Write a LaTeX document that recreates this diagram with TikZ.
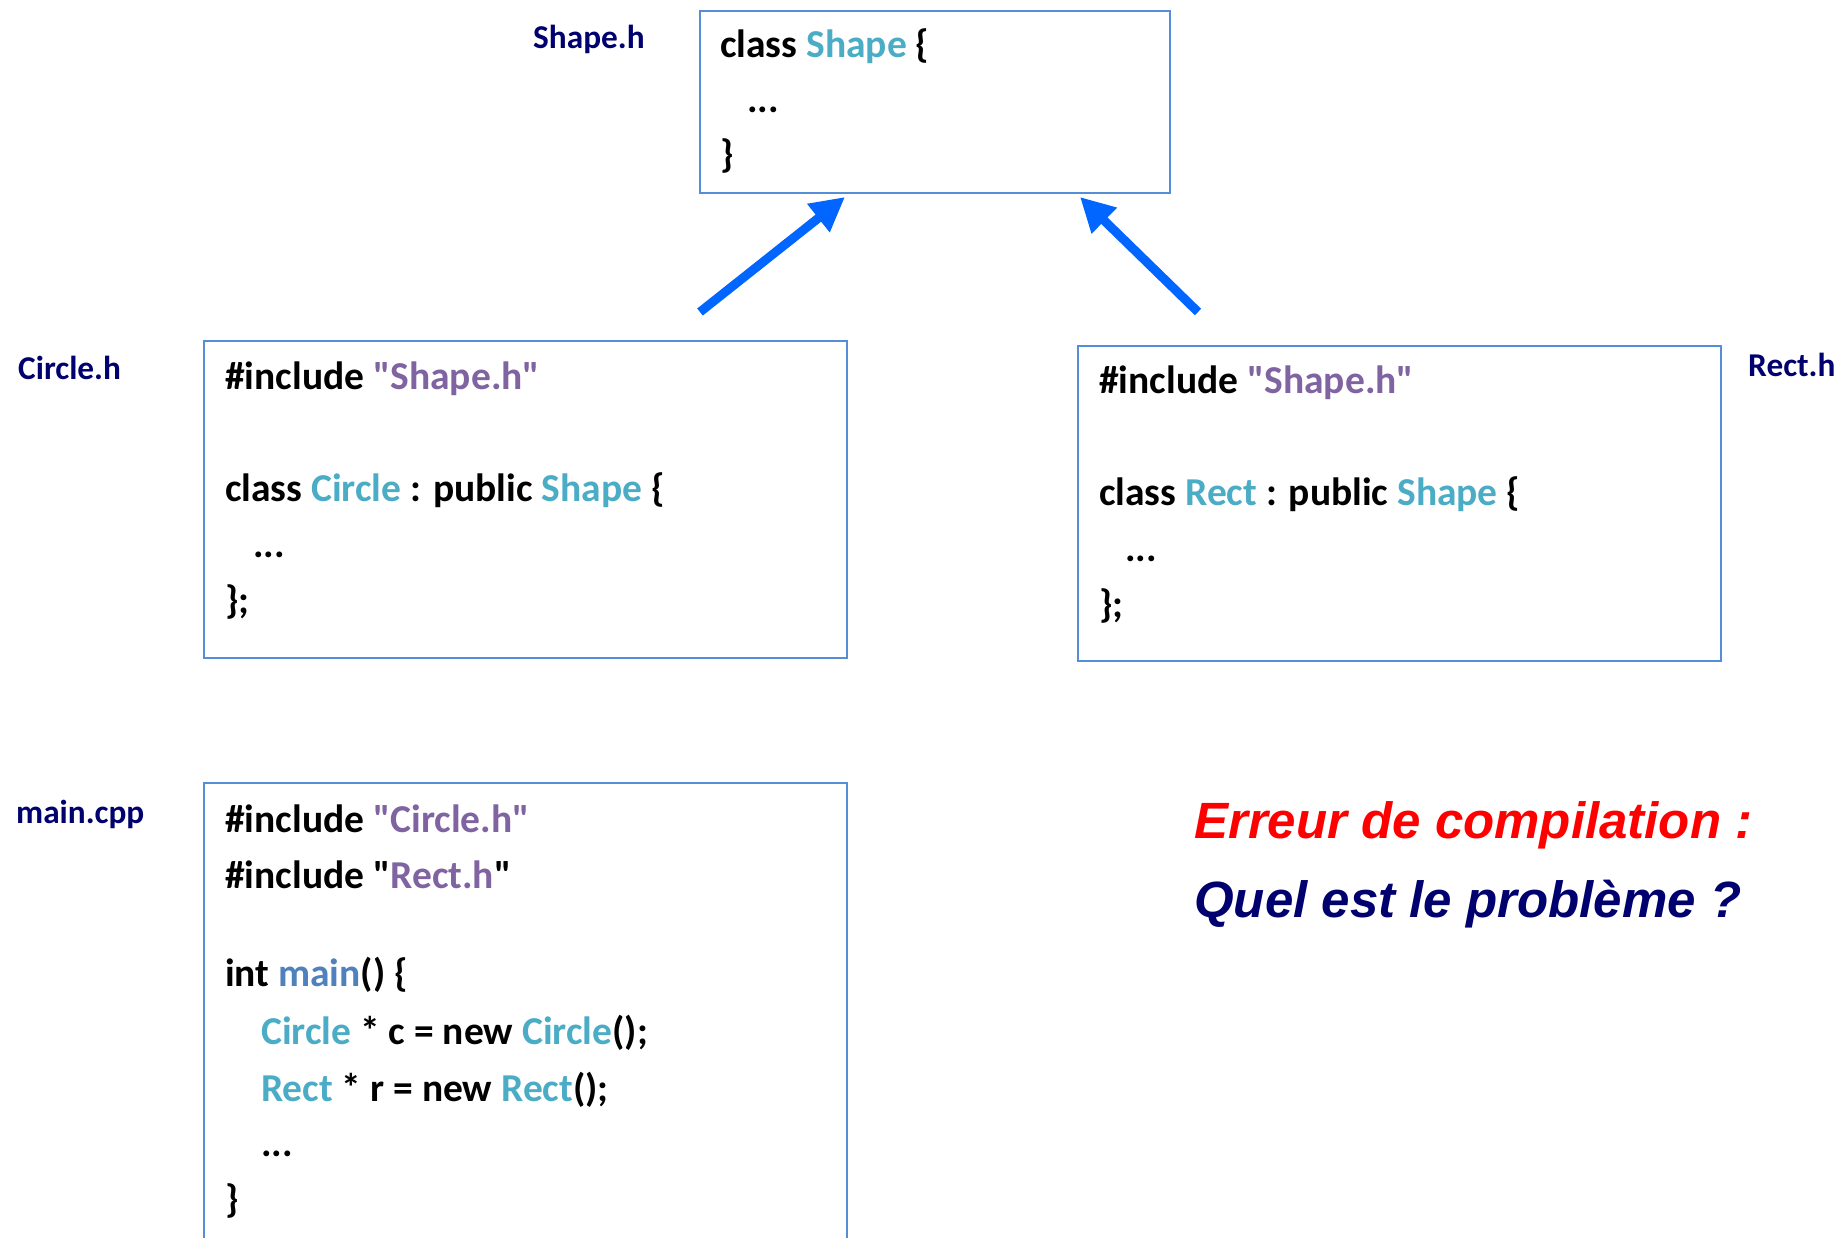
\documentclass[tikz,border=0pt]{standalone}
\usepackage{fontspec}
\usetikzlibrary{arrows.meta}
\newfontfamily\codefont{Carlito}
\newfontfamily\arialfont{Liberation Sans}
\definecolor{boxblue}{RGB}{85,142,213}
\definecolor{arrblue}{RGB}{0,102,255}
\definecolor{navy}{RGB}{0,0,110}
\definecolor{cyanc}{RGB}{75,172,198}
\definecolor{purp}{RGB}{128,100,162}
\definecolor{mainc}{RGB}{79,129,189}
\newcommand{\cy}[1]{\textcolor{cyanc}{#1}}
\newcommand{\pu}[1]{\textcolor{purp}{#1}}
\tikzset{
  codebox/.style={draw=boxblue, line width=2pt, inner sep=0pt, fill=white},
  codeline/.style={anchor=base west, inner sep=0pt, font=\codefont\bfseries\fontsize{39.5}{39.5}\selectfont},
  filelabel/.style={anchor=base west, inner sep=0pt, text=navy, font=\codefont\bfseries\fontsize{33.3}{33.3}\selectfont},
  bigtext/.style={anchor=base west, inner sep=0pt, font=\arialfont\bfseries\itshape\fontsize{51}{51}\selectfont},
  inherit/.style={draw=arrblue, line width=9pt, -{Triangle[length=34pt,width=34pt]}}
}
\begin{document}
\begin{tikzpicture}[x=1pt,y=-1pt]
\useasboundingbox (0,0) rectangle (1847,1238);
\clip (0,0) rectangle (1847,1238);
\fill[white] (0,0) rectangle (1847,1238);

% boxes
\node[codebox, minimum width=470pt, minimum height=182pt] (shape) at (935,102) {};
\node[codebox, minimum width=643pt, minimum height=317pt] (circle) at (525.5,499.5) {};
\node[codebox, minimum width=643pt, minimum height=315pt] (rect) at (1399.5,503.5) {};
\node[codebox, minimum width=643pt, minimum height=517pt] (main) at (525.5,1041.5) {};

% file labels
\node[filelabel] (lshape) at (533,49) {Shape.h};
\node[filelabel] (lcircle) at (18,380) {Circle.h};
\node[filelabel] (lrect) at (1748,377) {Rect.h};
\node[filelabel] (lmain) at (16,823) {main.cpp};

% Shape.h code
\node[codeline] (s1) at (720,58) {class \cy{Shape} \{};
\node[codeline] (s2) at (747,113) {...};
\node[codeline] (s3) at (720,168) {\}};

% Circle.h code
\node[codeline] (c1) at (225,389) {\#include \pu{"Shape.h"}};
\node[codeline] (c2) at (225,501) {class \cy{Circle} : public \cy{Shape} \{};
\node[codeline] (c3) at (253,557) {...};
\node[codeline] (c4) at (225,613) {\};};

% Rect.h code
\node[codeline] (r1) at (1099,393) {\#include \pu{"Shape.h"}};
\node[codeline] (r2) at (1099,505) {class \cy{Rect} : public \cy{Shape} \{};
\node[codeline] (r3) at (1125,561) {...};
\node[codeline] (r4) at (1099,617) {\};};

% main.cpp code
\node[codeline] (m1) at (225,832) {\#include \pu{"Circle.h"}};
\node[codeline] (m2) at (225,888) {\#include "\pu{Rect.h}"};
\node[codeline] (m3) at (225,986) {int \textcolor{mainc}{main}() \{};
\node[codeline] (m4) at (261,1044) {\cy{Circle} * c = new \cy{Circle}();};
\node[codeline] (m5) at (261,1101) {\cy{Rect} * r = new \cy{Rect}();};
\node[codeline] (m6) at (261,1156) {...};
\node[codeline] (m7) at (225,1212) {\}};

% question
\node[bigtext, text=red] (err) at (1194,838) {Erreur de compilation :};
\node[bigtext, text=navy] (q) at (1194,917) {Quel est le problème ?};

% inheritance arrows
\coordinate (ta) at (700,312);
\coordinate (tb) at (1198,312);
\draw[inherit] (ta) -- ([xshift=146pt,yshift=-3pt]shape.south west);
\draw[inherit] (tb) -- ([xshift=-91pt,yshift=-3pt]shape.south east);
\end{tikzpicture}
\end{document}
